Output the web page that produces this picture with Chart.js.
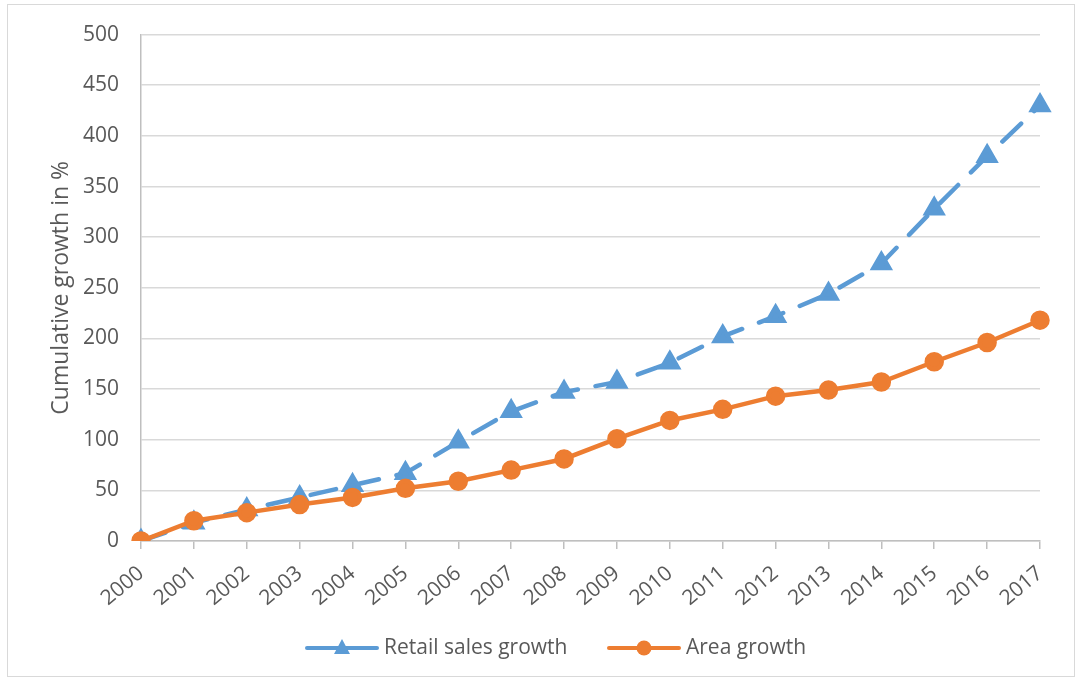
<!DOCTYPE html>
<html>
<head>
<meta charset="utf-8">
<script src="https://cdn.jsdelivr.net/npm/chart.js@4"></script>
<style>
html,body{margin:0;padding:0;background:#fff;}
#wrap{position:absolute;left:0;top:0;width:1083px;height:681px;}
</style>
</head>
<body>
<div id="wrap"><canvas id="c" width="1083" height="681"></canvas></div>
<script>
const years = ['2000','2001','2002','2003','2004','2005','2006','2007','2008','2009','2010','2011','2012','2013','2014','2015','2016','2017'];
const retailSales = [0,18,31,43,55,67,98,128,147,157,176,202,222,244,274,328,380,430];
const areaGrowth = [0,20,28,36,43,52,59,70,81,101,119,130,143,149,157,177,196,218];
const yTicks = [0,50,100,150,200,250,300,350,400,450,500];
const seriesNames = ['Retail sales growth','Area growth'];
const yTitle = 'Cumulative growth in %';

const FONT = "'Open Sans', 'Liberation Sans', sans-serif";
const GRAY = '#595959';

const frame = {
  id:'frame',
  beforeDraw(chart){
    const ctx = chart.ctx;
    ctx.save();
    ctx.fillStyle='#fff';
    ctx.fillRect(0,0,chart.width,chart.height);
    ctx.strokeStyle='#d9d9d9';
    ctx.lineWidth=1;
    ctx.strokeRect(7.5,4.5,1067,672);
    ctx.restore();
  }
};

const customLegend = {
  id:'customLegend',
  afterDraw(chart){
    const ctx = chart.ctx;
    const y = 648;
    const items = [
      {x:307, ds:chart.data.datasets[0]},
      {x:609, ds:chart.data.datasets[1]}
    ];
    ctx.save();
    items.forEach(it=>{
      const ds = it.ds;
      ctx.strokeStyle = ds.borderColor;
      ctx.lineWidth = 4;
      ctx.lineCap='round';
      ctx.beginPath();
      ctx.moveTo(it.x, y);
      ctx.lineTo(it.x+70, y);
      ctx.stroke();
      const cx = it.x+35;
      ctx.fillStyle = ds.pointBackgroundColor;
      if(ds.pointStyle==='triangle'){
        ctx.beginPath();
        ctx.moveTo(cx, y-9);
        ctx.lineTo(cx+8, y+6);
        ctx.lineTo(cx-8, y+6);
        ctx.closePath();
        ctx.fill();
      } else {
        ctx.beginPath();
        ctx.arc(cx,y,7.5,0,Math.PI*2);
        ctx.fill();
      }
      ctx.fillStyle = GRAY;
      ctx.font = "21px " + FONT;
      ctx.textBaseline='middle';
      ctx.fillText(ds.label, it.x+77, y);
    });
    ctx.restore();
  }
};

new Chart(document.getElementById('c'), {
  type:'line',
  data:{
    labels: years,
    datasets:[
      {
        label: seriesNames[0],
        data: retailSales,
        borderColor:'#5B9BD5',
        backgroundColor:'#5B9BD5',
        pointBackgroundColor:'#5B9BD5',
        pointBorderColor:'#5B9BD5',
        pointStyle:'triangle',
        pointRadius:9,
        borderWidth:4.5,
        borderDash:[26,18],
        borderCapStyle:'round',
        tension:0,
        order:2
      },
      {
        label: seriesNames[1],
        data: areaGrowth,
        borderColor:'#ED7D31',
        backgroundColor:'#ED7D31',
        pointBackgroundColor:'#ED7D31',
        pointBorderColor:'#ED7D31',
        pointStyle:'circle',
        pointRadius:7.5,
        borderWidth:4.5,
        borderCapStyle:'round',
        tension:0,
        order:1
      }
    ]
  },
  options:{
    responsive:false,
    animation:false,
    devicePixelRatio:1,
    layout:{padding:{left:0,right:43,top:34,bottom:0}},
    plugins:{legend:{display:false}, tooltip:{enabled:false}},
    scales:{
      x:{
        offset:false,
        afterFit(axis){ axis.height = 140; },
        grid:{display:true, drawOnChartArea:false, drawTicks:true, tickLength:8, color:'#bfbfbf', lineWidth:1.5},
        border:{display:true,color:'#bfbfbf',width:1.5},
        ticks:{color:GRAY, font:{size:21, family:FONT}, minRotation:40, maxRotation:40, autoSkip:false, padding:12}
      },
      y:{
        min:0,max:500,
        afterFit(axis){ axis.width = 141; },
        afterBuildTicks(axis){ axis.ticks = yTicks.map(v=>({value:v})); },
        grid:{color:'#d9d9d9', lineWidth:1.5, drawTicks:false},
        border:{display:true,color:'#bfbfbf',width:1.5},
        ticks:{color:GRAY, font:{size:21, family:FONT}, padding:22},
        title:{display:true, text:yTitle, color:GRAY, font:{size:23, family:FONT}, padding:{top:48,bottom:0}}
      }
    }
  },
  plugins:[frame, customLegend]
});
</script>
</body>
</html>
